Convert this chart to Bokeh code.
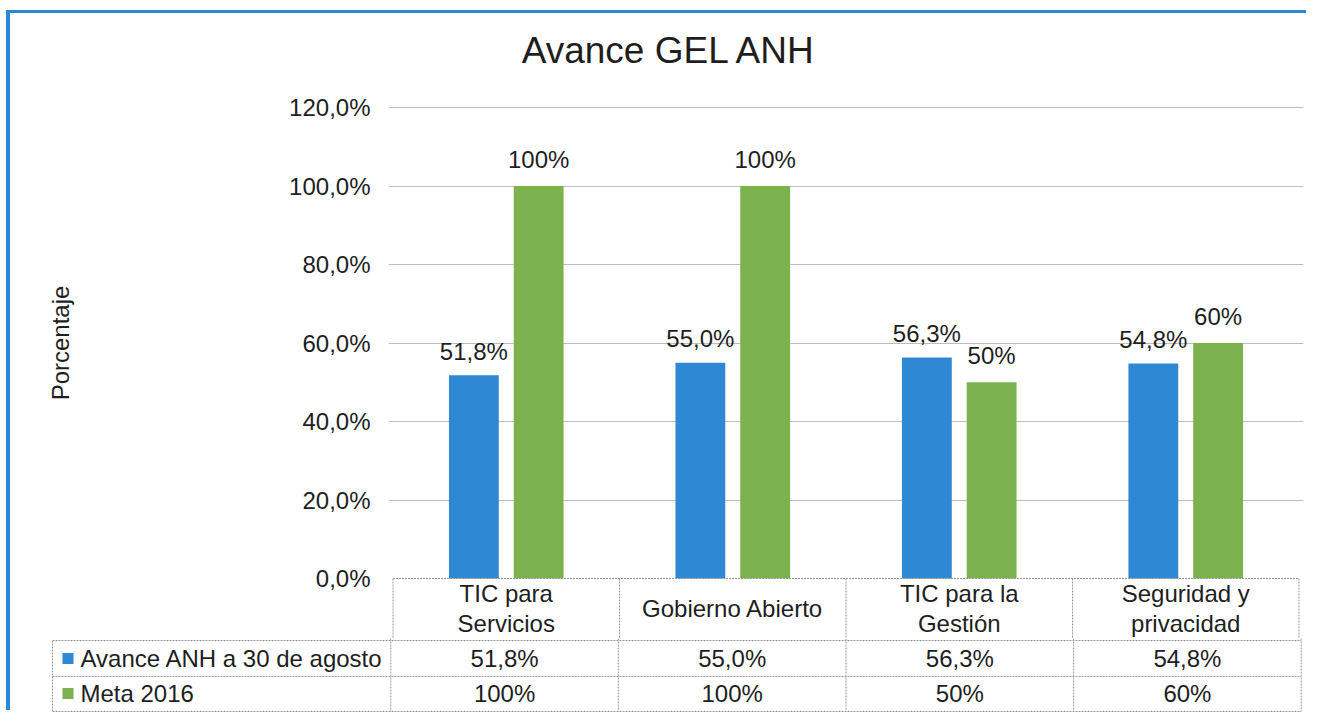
from bokeh.plotting import figure
from bokeh.layouts import column, row
from bokeh.models import ColumnDataSource, FactorRange, Range1d, FixedTicker
from bokeh.transform import dodge
from bokeh.core.properties import value
from bokeh.embed import file_html
from bokeh.resources import INLINE

# ---------------- data ----------------
chart_title = "Avance GEL ANH"
categories = ["TIC para Servicios", "Gobierno Abierto", "TIC para la Gestión", "Seguridad y privacidad"]
category_labels = ["TIC para\nServicios", "Gobierno Abierto", "TIC para la\nGestión", "Seguridad y\nprivacidad"]
series_names = ["Avance ANH a 30 de agosto", "Meta 2016"]
avance = [51.8, 55.0, 56.3, 54.8]
meta = [100, 100, 50, 60]
y_ticks = [0, 20, 40, 60, 80, 100, 120]
y_tick_labels = ["0,0%", "20,0%", "40,0%", "60,0%", "80,0%", "100,0%", "120,0%"]
y_axis_title = "Porcentaje"


def pct1(v):
    return f"{v:.1f}".replace(".", ",") + "%"


def pct0(v):
    return f"{v:.0f}%"


# ---------------- style ----------------
BLUE = "#2E88D4"
GREEN = "#7BB24E"
series_colors = [BLUE, GREEN]
TEXT = "#1E1E1E"
GRID = "#BDBDBD"
TABLE = "#9A9A9A"
FRAME_BLUE = "#2B87D1"
FONT = "Liberation Sans"
FS = "24px"
TFONT = value(FONT)

# ---------------- layout (page pixels) ----------------
OX, OY = 10, 13            # page position of the layout
LEFT_W = 270               # width of the y-title strip
TOP_W = 1030               # width of the chart figure
TOP_H = 625                # height of the chart figure (page 13 .. 638)
TAB_H = 75                 # height of the table figure (page 638 .. 713)
FRAME_L, FRAME_R = 388, 1303
FRAME_T = 20
SPLIT = OY + TOP_H
BOTTOM = SPLIT + TAB_H
PAD = 0.02
n = len(categories)
UX = (FRAME_R - FRAME_L) / (n + PAD)
X0 = FRAME_L + UX * PAD / 2
Y0 = 578                   # page y of 0 %
YU = 3.925                 # px per percentage point


def dx(px):
    return (px - X0) / UX


def dy(py):
    return (Y0 - py) / YU


BAR_W = 0.22
OFF = 0.143

src = ColumnDataSource(dict(
    cat=categories,
    cat_lbl=category_labels,
    avance=avance,
    meta=meta,
    avance_lbl=[pct1(v) for v in avance],
    meta_lbl=[pct0(v) for v in meta],
    xc=[i + 0.5 for i in range(n)],
))

common = dict(output_backend="svg", toolbar_location=None)

# ---------------- main chart ----------------
p = figure(
    x_range=FactorRange(factors=categories, range_padding=PAD,
                        range_padding_units="absolute"),
    y_range=Range1d(dy(SPLIT), dy(FRAME_T)),
    width=TOP_W, height=TOP_H,
    min_border_left=FRAME_L - (OX + LEFT_W), min_border_right=OX + LEFT_W + TOP_W - FRAME_R,
    min_border_top=FRAME_T - OY, min_border_bottom=0,
    x_axis_location=None, title=None, **common,
)
p.outline_line_color = None
p.xgrid.visible = False
ya = p.yaxis[0]
ya.ticker = FixedTicker(ticks=y_ticks)
ya.major_label_overrides = {t: l for t, l in zip(y_ticks, y_tick_labels)}
ya.axis_line_color = None
ya.major_tick_line_color = None
ya.minor_tick_line_color = None
ya.major_tick_out = 0
ya.major_tick_in = 0
ya.major_label_standoff = 18
ya.major_label_text_font = FONT
ya.major_label_text_font_size = FS
ya.major_label_text_color = TEXT
p.ygrid.ticker = FixedTicker(ticks=y_ticks[1:])
p.ygrid.grid_line_color = GRID

p.vbar(x=dodge("cat", -OFF, range=p.x_range), top="avance", width=BAR_W,
       source=src, fill_color=BLUE, line_color=None)
p.vbar(x=dodge("cat", OFF, range=p.x_range), top="meta", width=BAR_W,
       source=src, fill_color=GREEN, line_color=None)

p.text(x=dodge("cat", -OFF, range=p.x_range), y="avance", text="avance_lbl",
       source=src, text_align="center", text_baseline="alphabetic", y_offset=-24,
       text_font=TFONT, text_font_size=FS, text_color=TEXT)
p.text(x=dodge("cat", OFF, range=p.x_range), y="meta", text="meta_lbl",
       source=src, text_align="center", text_baseline="alphabetic", y_offset=-27,
       text_font=TFONT, text_font_size=FS, text_color=TEXT)

# title
p.text(x=[dx(668)], y=[dy(50)], text=[chart_title], text_align="center",
       text_baseline="middle", text_font=TFONT, text_font_size="37px", text_color=TEXT)

# table header row (inside the chart figure)
bounds = list(range(n + 1))
p.segment(x0=bounds, y0=[0] * len(bounds), x1=bounds, y1=[dy(SPLIT)] * len(bounds),
          line_color=TABLE, line_width=1, line_dash="2 1")
p.segment(x0=[0], y0=[0], x1=[n], y1=[0], line_color=TABLE, line_width=1, line_dash="2 1")
p.text(x="cat", y=dy(608), text="cat_lbl", source=src, text_align="center",
       text_baseline="middle", text_line_height=1.1,
       text_font=TFONT, text_font_size=FS, text_color=TEXT)

# ---------------- y-axis title strip ----------------
pl = figure(
    x_range=Range1d(dx(OX), dx(OX + LEFT_W)), y_range=p.y_range,
    width=LEFT_W, height=TOP_H,
    min_border_left=0, min_border_right=0, min_border_top=FRAME_T - OY, min_border_bottom=0,
    x_axis_location=None, y_axis_location=None, title=None, **common,
)
pl.outline_line_color = None
pl.grid.visible = False
pl.text(x=[dx(60)], y=[(y_ticks[0] + y_ticks[-1]) / 2], text=[y_axis_title], angle=1.5707963,
        text_align="center", text_baseline="middle", text_font=TFONT, text_font_size=FS,
        text_color=TEXT)

# ---------------- data table rows ----------------
TAB_L = 51
pt = figure(
    x_range=Range1d(dx(TAB_L), n + PAD / 2), y_range=Range1d(dy(BOTTOM), dy(SPLIT)),
    width=LEFT_W + TOP_W, height=TAB_H,
    min_border_left=TAB_L - OX, min_border_right=OX + LEFT_W + TOP_W - FRAME_R,
    min_border_top=0, min_border_bottom=0,
    x_axis_location=None, y_axis_location=None, title=None, **common,
)
pt.outline_line_color = None
pt.grid.visible = False

row_lines = [dy(640), dy(676), dy(711)]
row_centers = [dy(658), dy(693)]
pt.segment(x0=bounds, y0=[dy(SPLIT)] * len(bounds), x1=bounds, y1=[row_lines[-1]] * len(bounds),
           line_color=TABLE, line_width=1, line_dash="2 1")
pt.segment(x0=[dx(52)], y0=[row_lines[0]], x1=[dx(52)], y1=[row_lines[-1]],
           line_color=TABLE, line_width=1, line_dash="2 1")
pt.segment(x0=[dx(52)] * 3, y0=row_lines, x1=[n] * 3, y1=row_lines,
           line_color=TABLE, line_width=1, line_dash="2 1")

leg = ColumnDataSource(dict(name=series_names, color=series_colors, y=row_centers,
                            xs=[dx(67.5)] * 2, xt=[dx(80)] * 2))
pt.scatter(x="xs", y="y", marker="square", size=11, fill_color="color", line_color=None,
           source=leg)
pt.text(x="xt", y="y", text="name", source=leg, text_align="left", text_baseline="middle",
        text_font=TFONT, text_font_size=FS, text_color=TEXT)

pt.text(x="xc", y=row_centers[0], text="avance_lbl", source=src, text_align="center",
        text_baseline="middle", text_font=TFONT, text_font_size=FS, text_color=TEXT)
pt.text(x="xc", y=row_centers[1], text="meta_lbl", source=src, text_align="center",
        text_baseline="middle", text_font=TFONT, text_font_size=FS, text_color=TEXT)

layout = column(row(pl, p), pt)
layout.margin = (OY, 0, 0, OX)
layout.styles = {"box-shadow": f"-4px -3px 0 0 {FRAME_BLUE}"}

open("out.html", "w").write(file_html(layout, INLINE))
